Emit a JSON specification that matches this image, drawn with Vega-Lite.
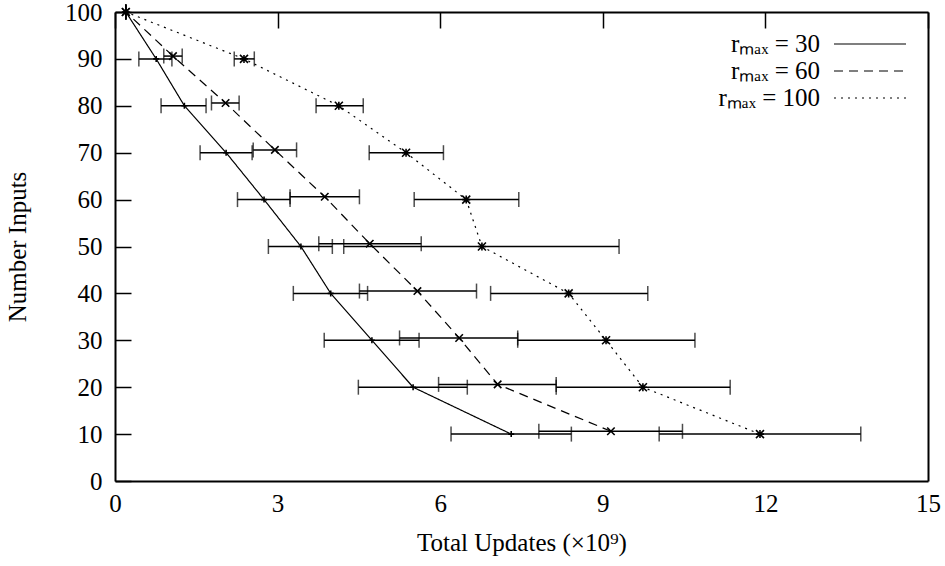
{
  "$schema": "https://vega.github.io/schema/vega-lite/v6.json",
  "width": 813,
  "height": 469,
  "autosize": {"type": "none"},
  "padding": {"left": 115, "top": 12, "right": 17, "bottom": 85},
  "background": "white",
  "config": {
    "view": {"stroke": null},
    "font": "Liberation Serif",
    "axis": {
      "grid": true,
      "gridColor": "black",
      "gridWidth": 1.5,
      "gridDash": [16, 2000],
      "gridOpacity": 1,
      "ticks": false,
      "labelFlush": false,
      "domainColor": "black",
      "domainWidth": 2,
      "labelFont": "Liberation Serif",
      "labelFontSize": 25,
      "labelColor": "black",
      "titleFont": "Liberation Serif",
      "titleFontSize": 25,
      "titleFontWeight": "normal",
      "titleColor": "black"
    },
    "legend": {
      "orient": "top-right",
      "title": null,
      "rowPadding": 1,
      "labelAlign": "right",
      "labelOffset": -63,
      "labelFont": "Liberation Serif",
      "labelFontSize": 25,
      "labelColor": "black",
      "labelLimit": 0,
      "offset": 19,
      "padding": 0
    }
  },
  "data": {
    "values": [
      {"s": "rₘₐₓ = 30", "n": 100, "x": 0.2, "lo": 0.2, "hi": 0.2},
      {"s": "rₘₐₓ = 30", "n": 90, "x": 0.76, "lo": 0.44, "hi": 1.05},
      {"s": "rₘₐₓ = 30", "n": 80, "x": 1.28, "lo": 0.85, "hi": 1.68},
      {"s": "rₘₐₓ = 30", "n": 70, "x": 2.05, "lo": 1.57, "hi": 2.53},
      {"s": "rₘₐₓ = 30", "n": 60, "x": 2.75, "lo": 2.26, "hi": 3.23},
      {"s": "rₘₐₓ = 30", "n": 50, "x": 3.43, "lo": 2.83, "hi": 4.01},
      {"s": "rₘₐₓ = 30", "n": 40, "x": 3.98, "lo": 3.29, "hi": 4.66},
      {"s": "rₘₐₓ = 30", "n": 30, "x": 4.74, "lo": 3.86, "hi": 5.61},
      {"s": "rₘₐₓ = 30", "n": 20, "x": 5.5, "lo": 4.49, "hi": 6.5},
      {"s": "rₘₐₓ = 30", "n": 10, "x": 7.31, "lo": 6.2, "hi": 8.42},
      {"s": "rₘₐₓ = 60", "n": 100, "x": 0.2, "lo": 0.2, "hi": 0.2},
      {"s": "rₘₐₓ = 60", "n": 90.6, "x": 1.07, "lo": 0.9, "hi": 1.24},
      {"s": "rₘₐₓ = 60", "n": 80.6, "x": 2.04, "lo": 1.78, "hi": 2.29},
      {"s": "rₘₐₓ = 60", "n": 70.6, "x": 2.95, "lo": 2.55, "hi": 3.35},
      {"s": "rₘₐₓ = 60", "n": 60.6, "x": 3.87, "lo": 3.23, "hi": 4.51},
      {"s": "rₘₐₓ = 60", "n": 50.6, "x": 4.7, "lo": 3.76, "hi": 5.65},
      {"s": "rₘₐₓ = 60", "n": 40.5, "x": 5.58, "lo": 4.51, "hi": 6.67},
      {"s": "rₘₐₓ = 60", "n": 30.5, "x": 6.35, "lo": 5.25, "hi": 7.43},
      {"s": "rₘₐₓ = 60", "n": 20.6, "x": 7.06, "lo": 5.97, "hi": 8.14},
      {"s": "rₘₐₓ = 60", "n": 10.6, "x": 9.15, "lo": 7.82, "hi": 10.47},
      {"s": "rₘₐₓ = 100", "n": 100, "x": 0.2, "lo": 0.2, "hi": 0.2},
      {"s": "rₘₐₓ = 100", "n": 90, "x": 2.38, "lo": 2.2, "hi": 2.57},
      {"s": "rₘₐₓ = 100", "n": 80, "x": 4.13, "lo": 3.71, "hi": 4.58},
      {"s": "rₘₐₓ = 100", "n": 70, "x": 5.37, "lo": 4.69, "hi": 6.06},
      {"s": "rₘₐₓ = 100", "n": 60, "x": 6.48, "lo": 5.52, "hi": 7.45},
      {"s": "rₘₐₓ = 100", "n": 50, "x": 6.77, "lo": 4.22, "hi": 9.3},
      {"s": "rₘₐₓ = 100", "n": 40, "x": 8.37, "lo": 6.93, "hi": 9.83},
      {"s": "rₘₐₓ = 100", "n": 30, "x": 9.06, "lo": 7.43, "hi": 10.7},
      {"s": "rₘₐₓ = 100", "n": 20, "x": 9.74, "lo": 8.14, "hi": 11.35},
      {"s": "rₘₐₓ = 100", "n": 10, "x": 11.9, "lo": 10.04, "hi": 13.76}
    ]
  },
  "layer": [
    {
      "layer": [
        {
          "mark": {"type": "rule", "color": "black", "strokeWidth": 1.5},
          "encoding": {
            "x": {"field": "lo", "type": "quantitative", "scale": {"domain": [0, 15], "nice": false}, "axis": {"values": [0, 3, 6, 9, 12, 15], "title": "Total Updates (×10⁹)", "labelPadding": 10, "titlePadding": 14}},
            "x2": {"field": "hi"},
            "y": {"field": "n", "type": "quantitative", "scale": {"domain": [0, 100], "nice": false}, "axis": {"values": [0, 10, 20, 30, 40, 50, 60, 70, 80, 90, 100], "title": "Number Inputs", "labelPadding": 13, "titlePadding": 34}}
          }
        },
        {
          "mark": {"type": "tick", "orient": "vertical", "color": "black", "size": 15, "thickness": 1.5},
          "encoding": {
            "x": {"field": "lo", "type": "quantitative"},
            "y": {"field": "n", "type": "quantitative"}
          }
        },
        {
          "mark": {"type": "tick", "orient": "vertical", "color": "black", "size": 15, "thickness": 1.5},
          "encoding": {
            "x": {"field": "hi", "type": "quantitative"},
            "y": {"field": "n", "type": "quantitative"}
          }
        },
        {
          "mark": {"type": "line", "color": "black", "strokeWidth": 1.2},
          "encoding": {
            "x": {"field": "x", "type": "quantitative"},
            "y": {"field": "n", "type": "quantitative"},
            "order": {"field": "n", "type": "quantitative"},
            "strokeDash": {"field": "s", "type": "nominal", "scale": {"domain": ["rₘₐₓ = 30", "rₘₐₓ = 60", "rₘₐₓ = 100"], "range": [[1, 0], [9, 6], [2, 5]]}, "legend": {"symbolType": "M-3,0L3,0", "symbolSize": 576, "symbolStrokeColor": "black", "symbolFillColor": "transparent", "symbolStrokeWidth": 1.2}}
          }
        },
        {
          "transform": [{"filter": "datum.s == 'rₘₐₓ = 30'"}],
          "mark": {"type": "point", "filled": false, "color": "black", "strokeWidth": 1.6, "opacity": 1, "shape": "M-1,0L1,0M0,-1L0,1", "size": 36},
          "encoding": {
            "x": {"field": "x", "type": "quantitative"},
            "y": {"field": "n", "type": "quantitative"}
          }
        },
        {
          "transform": [{"filter": "datum.s == 'rₘₐₓ = 60'"}],
          "mark": {"type": "point", "filled": false, "color": "black", "strokeWidth": 1.6, "opacity": 1, "shape": "M-1,-1L1,1M-1,1L1,-1", "size": 56},
          "encoding": {
            "x": {"field": "x", "type": "quantitative"},
            "y": {"field": "n", "type": "quantitative"}
          }
        },
        {
          "transform": [{"filter": "datum.s == 'rₘₐₓ = 100'"}],
          "mark": {"type": "point", "filled": false, "color": "black", "strokeWidth": 1.6, "opacity": 1, "shape": "M-1,0L1,0M0,-1L0,1M-1,-1L1,1M-1,1L1,-1", "size": 64},
          "encoding": {
            "x": {"field": "x", "type": "quantitative"},
            "y": {"field": "n", "type": "quantitative"}
          }
        }
      ]
    },
    {
      "mark": {"type": "point", "opacity": 0},
      "encoding": {
        "x": {"field": "x", "type": "quantitative", "axis": {"orient": "top", "values": [0, 3, 6, 9, 12, 15], "labels": false, "title": null}},
        "y": {"field": "n", "type": "quantitative", "axis": {"orient": "right", "values": [0, 10, 20, 30, 40, 50, 60, 70, 80, 90, 100], "labels": false, "title": null}}
      }
    }
  ],
  "resolve": {"axis": {"x": "independent", "y": "independent"}}
}
